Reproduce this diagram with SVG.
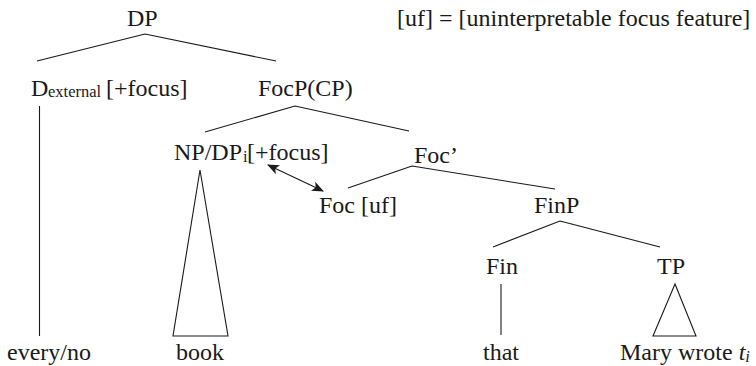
<svg xmlns="http://www.w3.org/2000/svg" width="756" height="366" viewBox="0 0 756 366">
<style>
text{font-family:"Liberation Serif","Times New Roman",serif;font-size:24px;fill:#1a1a1a}
.sub{font-size:16.5px}
.it{font-style:italic}
.e{stroke:#1a1a1a;stroke-width:1.1;fill:none}
</style>
<defs>
<marker id="ah" viewBox="0 0 12 10" refX="11" refY="5" markerWidth="12" markerHeight="10" markerUnits="userSpaceOnUse" orient="auto-start-reverse">
<path d="M0,0 L12,5 L0,10 L3,5 Z" fill="#1a1a1a"/>
</marker>
</defs>
<rect width="756" height="366" fill="#fff"/>
<g id="connectors">
<path class="e" d="M145,34 L37,61 M145,34 L276,61"/>
<path class="e" d="M39.5,106 L39.5,336"/>
<path class="e" d="M295,106 L205,132 M295,106 L409,131"/>
<path class="e" d="M200,170 L173,336 L228,336 Z"/>
<path class="e" d="M412,166 L348,188 M412,166 L555,189"/>
<path class="e" d="M560,221 L493,247 M560,221 L660,247"/>
<path class="e" d="M501,284 L501,335"/>
<path class="e" d="M675,284 L653,336 L696,336 Z"/>
<line class="e" x1="268" y1="165" x2="323" y2="191" marker-start="url(#ah)" marker-end="url(#ah)"/>
</g>
<g id="legend"><text x="397" y="26">[uf] = [uninterpretable focus feature]</text></g>
<g id="DP"><text x="127" y="26">DP</text></g>
<g id="Dext"><text x="31" y="96">D<tspan class="sub" x="48" y="97">external</tspan></text><text x="106" y="96">[+focus]</text></g>
<g id="FocP"><text x="258" y="96">FocP(CP)</text></g>
<g id="NPDP"><text x="174" y="160">NP/DP<tspan class="sub" x="243" y="162">i</tspan></text><text x="247" y="160">[+focus]</text></g>
<g id="FocBar"><text x="414" y="163">Foc’</text></g>
<g id="Foc"><text x="319" y="213">Foc [uf]</text></g>
<g id="FinP"><text x="534" y="213">FinP</text></g>
<g id="Fin"><text x="486" y="274">Fin</text></g>
<g id="TP"><text x="657" y="274">TP</text></g>
<g id="everyno"><text x="7" y="360">every/no</text></g>
<g id="book"><text x="176" y="360">book</text></g>
<g id="that"><text x="483" y="360">that</text></g>
<g id="Mary"><text x="620" y="360">Mary wrote <tspan class="it">t</tspan><tspan class="it sub" dy="2">i</tspan></text></g>
</svg>
